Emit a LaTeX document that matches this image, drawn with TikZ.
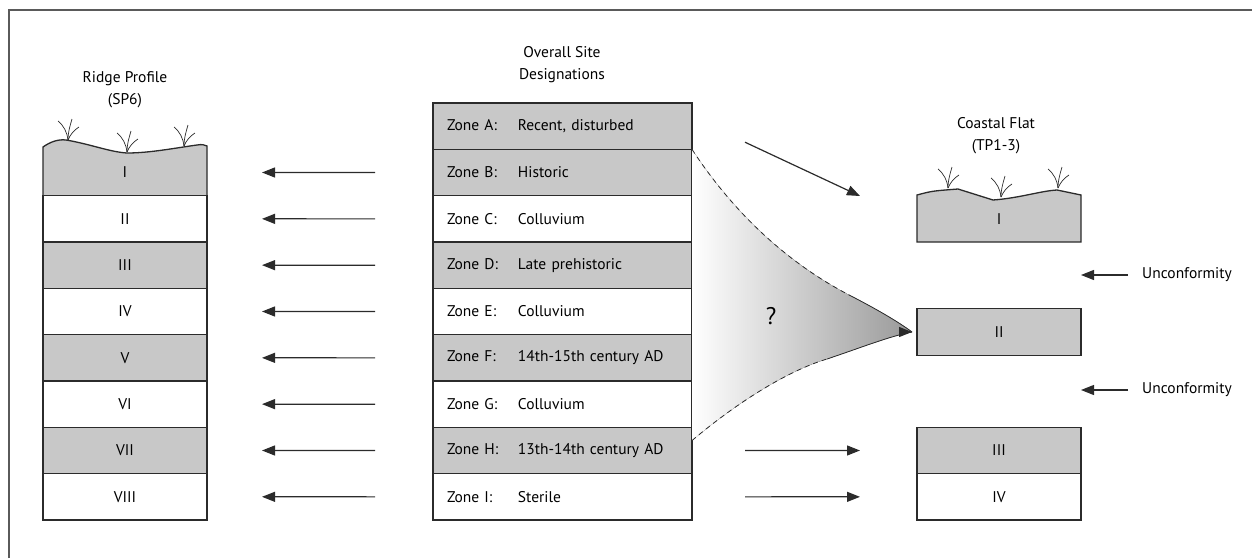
\documentclass[tikz,border=0pt]{standalone}
\usepackage{fontspec}
\setmainfont{PT Sans}
\usetikzlibrary{arrows.meta,positioning}

\definecolor{layergray}{HTML}{C8C8C8}
\definecolor{inkgray}{HTML}{2B2B2B}
\definecolor{framegray}{HTML}{5A5A5A}

\newcommand{\zonelabel}[1]{\makebox[71pt][l]{#1}}

\tikzset{
  frame/.style={draw=framegray, line width=2pt},
  title/.style={align=center, font=\fontsize{15.5}{22}\selectfont},
  layer/.style={draw=inkgray, line width=1.3pt, minimum width=164pt,
    minimum height=46.33pt, inner sep=0pt, outer sep=0pt},
  zone/.style={layer, text width=231pt, inner xsep=14pt, align=left},
  arr/.style={draw=inkgray, line width=1.2pt,
    -{Triangle[length=13pt,width=10pt]}},
  tuftline/.style={draw=inkgray, line width=0.7pt},
  tuft/.pic={
    \draw[tuftline] (0,0) .. controls (-1,-8) and (-4,-14) .. (-10,-19);
    \draw[tuftline] (0,0) .. controls (0,-8) and (2,-14) .. (4,-21);
    \draw[tuftline] (0,0) .. controls (2,-5) and (6,-10) .. (11,-13);
  },
}

\begin{document}
\begin{tikzpicture}[x=1pt,y=-1pt,font=\fontsize{15.5}{18}\selectfont]
  \useasboundingbox (0,0) rectangle (1252,558);
  \draw[frame] (9,558) -- (9,10) -- (1252,10);

  % titles
  \node[title] (tRidge) at (125,90) {Ridge Profile\\(SP6)};
  \node[title] (tSite) at (562,65) {Overall Site\\Designations};
  \node[title] (tCoast) at (996,136) {Coastal Flat\\(TP1-3)};

  % overall site designations
  \node[zone,fill=layergray] (zA) at (562.5,126.2) {\zonelabel{Zone A:}Recent, disturbed};
  \node[zone,fill=layergray,below=0pt of zA] (zB) {\zonelabel{Zone B:}Historic};
  \node[zone,fill=white,below=0pt of zB] (zC) {\zonelabel{Zone C:}Colluvium};
  \node[zone,fill=layergray,below=0pt of zC] (zD) {\zonelabel{Zone D:}Late prehistoric};
  \node[zone,fill=white,below=0pt of zD] (zE) {\zonelabel{Zone E:}Colluvium};
  \node[zone,fill=layergray,below=0pt of zE] (zF) {\zonelabel{Zone F:}14th-15th century AD};
  \node[zone,fill=white,below=0pt of zF] (zG) {\zonelabel{Zone G:}Colluvium};
  \node[zone,fill=layergray,below=0pt of zG] (zH) {\zonelabel{Zone H:}13th-14th century AD};
  \node[zone,fill=white,below=0pt of zH] (zI) {\zonelabel{Zone I:}Sterile};

  % ridge profile
  \filldraw[fill=layergray, draw=inkgray, line width=1.3pt]
    (43,195.7) -- (43,147) .. controls (50,142) and (58,139) .. (66,140)
    .. controls (90,144) and (110,152) .. (127,153)
    .. controls (150,153) and (175,148) .. (197,145)
    .. controls (202,144) and (205,145) .. (207,146) -- (207,195.7) -- cycle;
  \pic at (68,140) {tuft};
  \pic at (127,152) {tuft};
  \pic at (184,146) {tuft};
  \node[layer,draw=none] (rI) at (125,172.5) {I};
  \node[layer,fill=white,below=0pt of rI] (rII) {II};
  \node[layer,fill=layergray,below=0pt of rII] (rIII) {III};
  \node[layer,fill=white,below=0pt of rIII] (rIV) {IV};
  \node[layer,fill=layergray,below=0pt of rIV] (rV) {V};
  \node[layer,fill=white,below=0pt of rV] (rVI) {VI};
  \node[layer,fill=layergray,below=0pt of rVI] (rVII) {VII};
  \node[layer,fill=white,below=0pt of rVII] (rVIII) {VIII};

  % coastal flat
  \filldraw[fill=layergray, draw=inkgray, line width=1.3pt]
    (917,242) -- (917,195) .. controls (932,191) .. (958,189)
    .. controls (975,195) .. (993,200)
    .. controls (1020,198) and (1040,191) .. (1057,190)
    -- (1081,195) -- (1081,242) -- cycle;
  \pic at (948,188) {tuft};
  \pic at (1001,197) {tuft};
  \pic at (1058,188) {tuft};
  \node[layer,draw=none] (cI) at (999,219) {I};
  \node[layer,fill=layergray] (cII) at (999,332) {II};
  \node[layer,fill=layergray] (cIII) at (999,450.5) {III};
  \node[layer,fill=white,below=0pt of cIII] (cIV) {IV};

  \node[anchor=west,inner sep=0pt] (u1) at (1142,275) {Unconformity};
  \node[anchor=west,inner sep=0pt] (u2) at (1142,390) {Unconformity};

  % uncertain link from zones B-H
  \coordinate (qtip) at (912,332);
  \coordinate (qtop) at (zB.north east);
  \coordinate (qbot) at ([yshift=10pt]zH.east);
  \coordinate (qtopmid) at (853,297);
  \coordinate (qbotmid) at (827,359);
  \fill[left color=white, right color=black!40]
    (qtop) .. controls (735,215) and (790,265) .. (qtopmid)
    .. controls (880,311) and (900,323) .. (qtip)
    .. controls (890,336) and (860,348) .. (qbotmid)
    .. controls (790,370) and (740,400) .. (qbot) -- cycle;
  \draw[inkgray, line width=0.8pt, dash pattern=on 5pt off 4pt]
    (qtop) .. controls (735,215) and (790,265) .. (qtopmid);
  \draw[inkgray, line width=0.8pt]
    (qtopmid) .. controls (880,311) and (900,323) .. (qtip);
  \draw[inkgray, line width=0.8pt, dash pattern=on 5pt off 4pt]
    (qbot) .. controls (740,400) and (790,370) .. (qbotmid);
  \draw[inkgray, line width=0.8pt]
    (qbotmid) .. controls (860,348) and (890,336) .. (qtip);
  \draw[arr] ([xshift=-12pt]qtip) -- (qtip);
  \node[font=\fontsize{24}{28}\selectfont] (qmark) at (771,316) {?};

  \begin{scope}
    \draw[arr] ([xshift=-58pt]zB.west) -- ([xshift=55pt]rI.east);
    \draw[arr] ([xshift=-58pt]zC.west) -- ([xshift=55pt]rII.east);
    \draw[arr] ([xshift=-58pt]zD.west) -- ([xshift=55pt]rIII.east);
    \draw[arr] ([xshift=-58pt]zE.west) -- ([xshift=55pt]rIV.east);
    \draw[arr] ([xshift=-58pt]zF.west) -- ([xshift=55pt]rV.east);
    \draw[arr] ([xshift=-58pt]zG.west) -- ([xshift=55pt]rVI.east);
    \draw[arr] ([xshift=-58pt]zH.west) -- ([xshift=55pt]rVII.east);
    \draw[arr] ([xshift=-58pt]zI.west) -- ([xshift=55pt]rVIII.east);
    \draw[arr] ([xshift=53pt,yshift=-16pt]zA.east) -- ([xshift=-57pt,yshift=23pt]cI.west);
    \draw[arr] ([xshift=53pt]zH.east) -- ([xshift=-57pt]cIII.west);
    \draw[arr] ([xshift=53pt]zI.east) -- ([xshift=-57pt]cIV.west);
    \draw[arr] ([xshift=-14pt]u1.west) -- (u1.west -| cII.east);
    \draw[arr] ([xshift=-14pt]u2.west) -- (u2.west -| cII.east);
  \end{scope}
\end{tikzpicture}
\end{document}
